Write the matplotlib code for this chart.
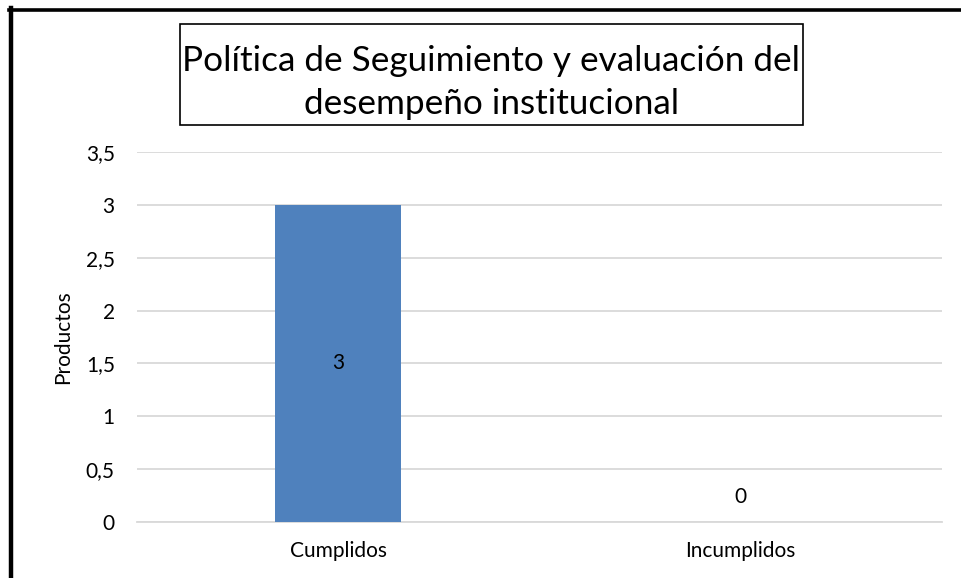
import matplotlib
matplotlib.use("Agg")
import matplotlib.pyplot as plt
from matplotlib.ticker import FuncFormatter
from matplotlib.patches import Rectangle
from matplotlib.lines import Line2D

categories = ["Cumplidos", "Incumplidos"]
values = [3, 0]
title_lines = ["Política de Seguimiento y evaluación del", "desempeño institucional"]
ylabel = "Productos"

plt.rcParams['font.family'] = ['Lato', 'DejaVu Sans']

W, H = 961, 578
fig = plt.figure(figsize=(W/100, H/100), dpi=100)
fig.patch.set_facecolor("white")

def fx(x): return x / W
def fy(y): return 1 - y / H

# plot area: x 137..942, y 152 (3.5) .. 522 (0)
ax = fig.add_axes([fx(137), fy(522), fx(942) - fx(137), fy(152) - fy(522)])
x = list(range(len(categories)))
ax.bar(x, values, width=0.313, color="#4F81BD", zorder=3)
ax.set_xlim(-0.5, len(categories) - 0.5)
ax.set_ylim(0, 3.5)
ax.set_yticks([0, 0.5, 1, 1.5, 2, 2.5, 3, 3.5])
ax.yaxis.set_major_formatter(FuncFormatter(lambda v, p: ("%g" % v).replace(".", ",")))
ax.set_xticks(x)
ax.set_xticklabels(categories)
ax.grid(axis="y", color="#D9D9D9", linewidth=1.3, zorder=0)
for s in ["top", "right", "left"]:
    ax.spines[s].set_visible(False)
ax.spines["bottom"].set_color("#D9D9D9")
ax.spines["bottom"].set_linewidth(1.3)
ax.tick_params(axis="both", length=0, labelsize=15, colors="#000000")
ax.tick_params(axis="y", pad=16)
ax.tick_params(axis="x", pad=14)
ax.set_ylabel(ylabel, fontsize=15, labelpad=9)

for xi, v in zip(x, values):
    if v > 0:
        ax.text(xi, v / 2, str(v), ha="center", va="center", fontsize=15)
    else:
        ax.text(xi, 0.24, str(v), ha="center", va="center", fontsize=15)

# title box
fig.add_artist(Rectangle((fx(180), fy(125)), fx(803) - fx(180), fy(24) - fy(125),
                         transform=fig.transFigure, fill=False, edgecolor="black", linewidth=1.2))
fig.text(fx(491.5), fy(71), title_lines[0], ha="center", va="baseline", fontsize=25.3)
fig.text(fx(491.5), fy(114), title_lines[1], ha="center", va="baseline", fontsize=25.3)

# outer border (left and top)
fig.add_artist(Line2D([fx(11), fx(11)], [0, fy(8)], transform=fig.transFigure, color="black", linewidth=3.2))
fig.add_artist(Line2D([fx(9), 1], [fy(9.5), fy(9.5)], transform=fig.transFigure, color="black", linewidth=2.6))

fig.savefig("out.png", dpi=100)
